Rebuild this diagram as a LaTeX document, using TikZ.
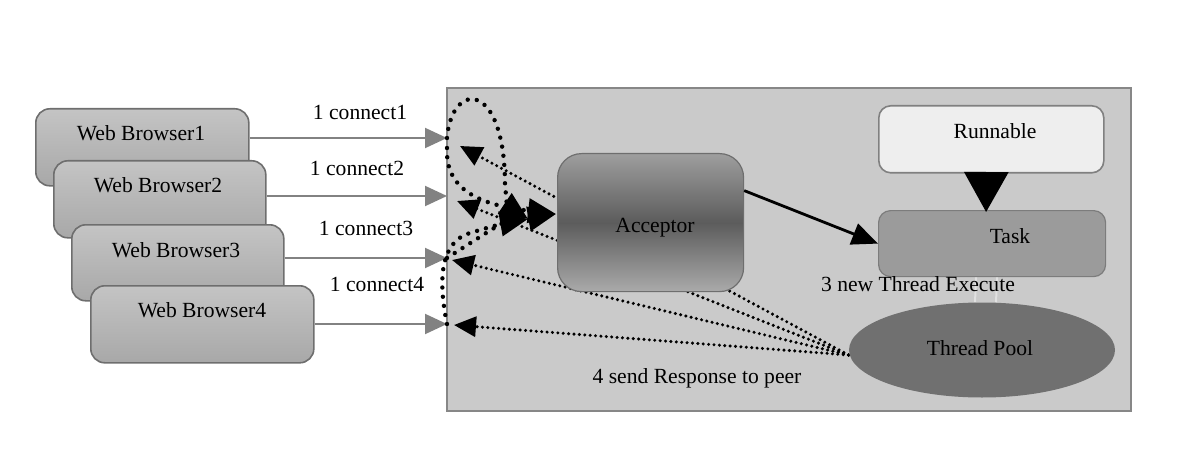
\documentclass[tikz,border=0pt]{standalone}
\usepackage{fontspec}
\setmainfont{Liberation Serif}
\usetikzlibrary{arrows.meta,calc,shapes.geometric}
\pgfdeclarelayer{bg}
\pgfsetlayers{bg,main}
\definecolor{panel}{RGB}{202,202,202}
\definecolor{panelborder}{RGB}{135,135,135}
\definecolor{boxborder}{RGB}{110,110,110}
\definecolor{browtop}{RGB}{196,196,196}
\definecolor{browbot}{RGB}{168,168,168}
\definecolor{conn}{RGB}{130,130,130}
\definecolor{acctop}{RGB}{158,158,158}
\definecolor{accmid}{RGB}{92,92,92}
\definecolor{accbot}{RGB}{170,170,170}
\definecolor{taskfill}{RGB}{155,155,155}
\definecolor{runfill}{RGB}{238,238,238}
\definecolor{poolfill}{RGB}{112,112,112}
\definecolor{faint}{RGB}{225,225,225}
\begin{document}
\begin{tikzpicture}[x=0.5pt,y=-0.5pt,
  lbl/.style={font=\fontsize{10.8}{12}\selectfont, inner sep=0pt},
  browser/.style={draw=boxborder, line width=0.8pt, rounded corners=7pt,
    top color=browtop, bottom color=browbot, anchor=north west, inner sep=0pt},
  connarrow/.style={draw=conn, line width=1pt, -{Triangle[length=11pt,width=10pt]}},
  resp/.style={draw=black, line width=1.7pt, line cap=round, dash pattern=on 0pt off 2.7pt,
    -{Triangle[length=11pt,width=10pt]}},
  loopy/.style={draw=black, line width=2.2pt, line cap=round, dash pattern=on 0pt off 4.6pt,
    -{Triangle[length=14pt,width=12pt]}},
]
\useasboundingbox (0,0) rectangle (1189,465);

% browsers
\node[browser, minimum width=106.5pt, minimum height=38.5pt] (b1) at (35,108) {};
\node[lbl] (t1) at (141,133) {Web Browser1};
\node[browser, minimum width=106pt, minimum height=38.5pt] (b2) at (53,160) {};
\node[lbl] (t2) at (158,185) {Web Browser2};
\node[browser, minimum width=106pt, minimum height=38pt] (b3) at (71,224) {};
\node[lbl] (t3) at (176,250) {Web Browser3};
\node[browser, minimum width=111.5pt, minimum height=38.5pt] (b4) at (90,285) {};
\node[lbl] (t4) at (202,310) {Web Browser4};

% right-hand nodes
\node[draw=boxborder, line width=0.6pt, rounded corners=12pt, anchor=north west, inner sep=0pt,
  minimum width=93pt, minimum height=69pt,
  top color=acctop, bottom color=accbot, middle color=accmid] (acc) at (557,153) {};
\node[lbl] (tacc) at (655,228) {Acceptor};

\node[draw=gray, line width=0.8pt, rounded corners=6pt, fill=runfill, anchor=north west,
  inner sep=0pt, minimum width=112.5pt, minimum height=33.5pt] (run) at (878,105) {};
\node[lbl] (trun) at (995,131) {Runnable};

\node[draw=taskfill!80!black, line width=0.6pt, rounded corners=6pt, fill=taskfill, anchor=north west,
  inner sep=0pt, minimum width=113.5pt, minimum height=33pt] (task) at (878,210) {};
\node[lbl] (ttask) at (1010,236) {Task};

\node[ellipse, fill=poolfill, inner sep=0pt, minimum width=133pt, minimum height=47.5pt]
  (pool) at (982,350) {};
\node[lbl] (tpool) at (980,348) {Thread Pool};

\node[lbl] (l3) at (918,284) {3 new Thread Execute};
\node[lbl] (l4) at (697,378) {4 send Response to peer};

% connect labels
\node[lbl] (c1) at (360,112) {1 connect1};
\node[lbl] (c2) at (357,168) {1 connect2};
\node[lbl] (c3) at (366,228) {1 connect3};
\node[lbl] (c4) at (377,284) {1 connect4};

% arrival points
\coordinate (p1) at (447,138);
\coordinate (p2) at (447,196);
\coordinate (p3) at (447,258);
\coordinate (p4) at (447,324);
% response tips
\coordinate (q1) at (460,146);
\coordinate (q2) at (457,201);
\coordinate (q3) at (452,260);
\coordinate (q4) at (454,325);
% acceptor input tips
\coordinate (a1) at (528,219);
\coordinate (a2) at (556,214);

\begin{pgfonlayer}{bg}
% panel
\node[draw=panelborder, line width=1.2pt, fill=panel, anchor=north west, inner sep=0pt,
  minimum width=342pt, minimum height=161.5pt] (panel) at (446,87) {};
% responses from thread pool (behind acceptor)
\draw[resp] ($(pool.west)+(0,5)$) -- (q1);
\draw[resp] ($(pool.west)+(0,5)$) -- (q2);
\draw[resp] ($(pool.west)+(0,5)$) -- (q3);
\draw[resp] ($(pool.west)+(0,5)$) -- (q4);
% faint links task -> pool
\draw[faint, line width=1pt] ($(task.south)+(-16,0)$) -- ($(pool.north)+(-7,0)$);
\draw[faint, line width=1pt] ($(task.south)+(5,0)$) -- ($(pool.north)+(14,0)$);
\end{pgfonlayer}

% connect arrows
\draw[connarrow] (b1.north east |- p1) -- (p1);
\draw[connarrow] (b2.north east |- p2) -- (p2);
\draw[connarrow] (b3.north east |- p3) -- (p3);
\draw[connarrow] (b4.north east |- p4) -- (p4);

% dotted arrivals into acceptor
\draw[loopy] (p1) .. controls (452,80) and (505,80) .. (505,185) .. controls (507,205) .. (a1);
\draw[loopy] ($(p1)+(0,10)$) .. controls (445,190) and (480,205) .. (a2);
\draw[loopy] (p3) .. controls (475,240) and (500,224) .. (a1);
\draw[loopy] (p4) .. controls (438,280) and (440,242) .. (470,233) .. controls (500,224) .. (a2);

% solid arrows
\draw[black, line width=1.4pt, -{Triangle[length=13pt,width=11pt]}]
  ($(acc.east)+(0,-32)$) -- (task.west);
\draw[black, line width=1.4pt, -{Triangle[length=20pt,width=22pt]}]
  ($(run.south)+(-5,0)$) -- ($(task.north)+(-6,2)$);
\end{tikzpicture}
\end{document}
